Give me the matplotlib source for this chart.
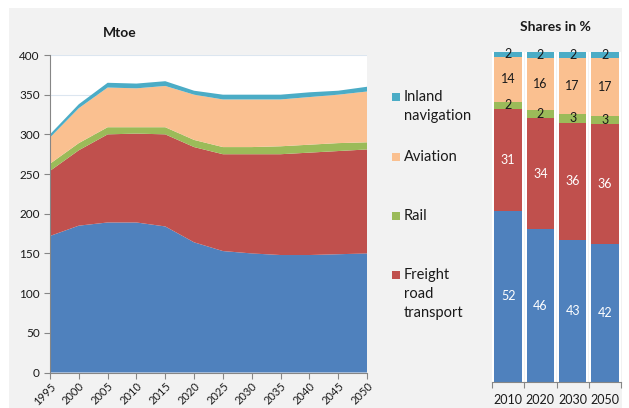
import matplotlib
matplotlib.use("Agg")
import matplotlib.pyplot as plt
from matplotlib.patches import Rectangle
import numpy as np

plt.rcParams['font.family'] = ['Lato', 'DejaVu Sans']

# ---------------- data ----------------
years = [1995, 2000, 2005, 2010, 2015, 2020, 2025, 2030, 2035, 2040, 2045, 2050]
other_road = [172, 185, 189, 189, 184, 164, 153, 150, 148, 148, 149, 150]
freight_road = [82, 95, 111, 112, 116, 120, 122, 125, 127, 129, 130, 131]
rail = [9, 9, 9, 8, 9, 9, 9, 9, 10, 10, 10, 9]
aviation = [33, 44, 50, 49, 52, 57, 60, 60, 59, 60, 61, 64]
inland = [4, 5, 6, 6, 6, 5, 6, 6, 6, 6, 5, 6]

share_years = ['2010', '2020', '2030', '2050']
share_other_road = [51.9, 46.2, 42.9, 41.7]
share_freight_road = [30.8, 33.8, 35.7, 36.4]
share_rail = [2.2, 2.4, 2.7, 2.6]
share_aviation = [13.6, 15.9, 17.0, 17.4]
share_inland = [1.5, 1.7, 1.7, 1.9]

legend_labels = ['Inland\nnavigation', 'Aviation', 'Rail', 'Freight\nroad\ntransport']

# ---------------- style ----------------
c_blue = '#4F81BD'
c_red = '#C0504D'
c_green = '#9BBB59'
c_peach = '#FAC090'
c_teal = '#4BACC6'
c_axis = '#868686'
c_text = '#1a1a1a'

W, H = 629, 408
fig = plt.figure(figsize=(W / 100, H / 100), dpi=100, facecolor='white')

def fx(px):
    return px / W

def fy(py):
    return 1 - py / H

# grey panel background
fig.add_artist(Rectangle((fx(9), 0), fx(622) - fx(9), fy(8), transform=fig.transFigure,
                         facecolor='#F2F2F2', edgecolor='none', zorder=0))

# ---------------- left chart ----------------
axL = fig.add_axes([fx(50), fy(372.5), fx(367) - fx(50), fy(55) - fy(372.5)])
axL.set_facecolor('white')
axL.stackplot(years, other_road, freight_road, rail, aviation, inland,
              colors=[c_blue, c_red, c_green, c_peach, c_teal], linewidth=0)
axL.set_xlim(1995, 2050)
axL.set_ylim(0, 400)
axL.set_yticks(range(0, 401, 50))
axL.set_xticks(years)
axL.set_xticklabels([str(y) for y in years], rotation=45, ha='right',
                    rotation_mode='anchor', fontsize=8, color=c_text)
axL.tick_params(axis='y', labelsize=8.5, colors=c_axis, labelcolor=c_text, length=4, width=0.8)
axL.tick_params(axis='x', colors=c_axis, labelcolor=c_text, length=4, width=0.8, pad=2)
axL.grid(axis='y', color='#DCE6F0', linewidth=0.8, zorder=0)
axL.set_axisbelow(True)
for s in ['top', 'right']:
    axL.spines[s].set_visible(False)
for s in ['left', 'bottom']:
    axL.spines[s].set_color(c_axis)
    axL.spines[s].set_linewidth(0.8)

fig.text(fx(120), fy(33), 'Mtoe', fontsize=10, fontweight='bold', ha='center', va='center', color=c_text)

# ---------------- legend ----------------
leg_colors = [c_teal, c_peach, c_green, c_red]
leg_y = [97, 157, 216, 275]
sq = 8
for lab, col, y0 in zip(legend_labels, leg_colors, leg_y):
    fig.add_artist(Rectangle((fx(392), fy(y0 + sq / 2)), fx(sq), sq / H, transform=fig.transFigure,
                             facecolor=col, edgecolor='none'))
    for i, line in enumerate(lab.split('\n')):
        fig.text(fx(404), fy(y0 + i * 19), line, fontsize=10.5, ha='left', va='center', color=c_text)

# ---------------- right chart ----------------
axR = fig.add_axes([fx(492), fy(381.7), fx(621) - fx(492), fy(52) - fy(381.7)])
axR.patch.set_alpha(0)
x = np.arange(len(share_years))
series = [share_other_road, share_freight_road, share_rail, share_aviation, share_inland]
cols = [c_blue, c_red, c_green, c_peach, c_teal]
txtcols = ['white', 'white', c_text, c_text, c_text]
# white backing behind each bar column
axR.bar(x, [100] * len(x), width=0.98, color='white', linewidth=0, zorder=1)
bottom = np.zeros(len(x))
for vals, col, tc in zip(series, cols, txtcols):
    vals = np.array(vals)
    axR.bar(x, vals, bottom=bottom, width=0.86, color=col, linewidth=0, zorder=2)
    for xi, v, b in zip(x, vals, bottom):
        axR.text(xi, b + v / 2, '%.0f' % v, ha='center', va='center', fontsize=9, color=tc, zorder=3)
    bottom += vals
axR.set_xlim(-0.5, len(x) - 0.5)
axR.set_ylim(0, 100)
axR.set_yticks([])
axR.set_xticks(x)
axR.set_xticklabels(share_years, fontsize=9, color=c_text)
axR.tick_params(axis='x', which='major', length=0, pad=9)
axR.set_xticks(np.arange(-0.5, len(x), 1.0), minor=True)
axR.tick_params(axis='x', which='minor', length=4, width=0.8, colors=c_axis)
for s in ['top', 'right', 'left']:
    axR.spines[s].set_visible(False)
axR.spines['bottom'].set_color(c_axis)
axR.spines['bottom'].set_linewidth(0.8)

fig.text(fx(555), fy(27), 'Shares in %', fontsize=10, fontweight='bold', ha='center', va='center', color=c_text)

fig.savefig('out.png', dpi=100, facecolor='white')
